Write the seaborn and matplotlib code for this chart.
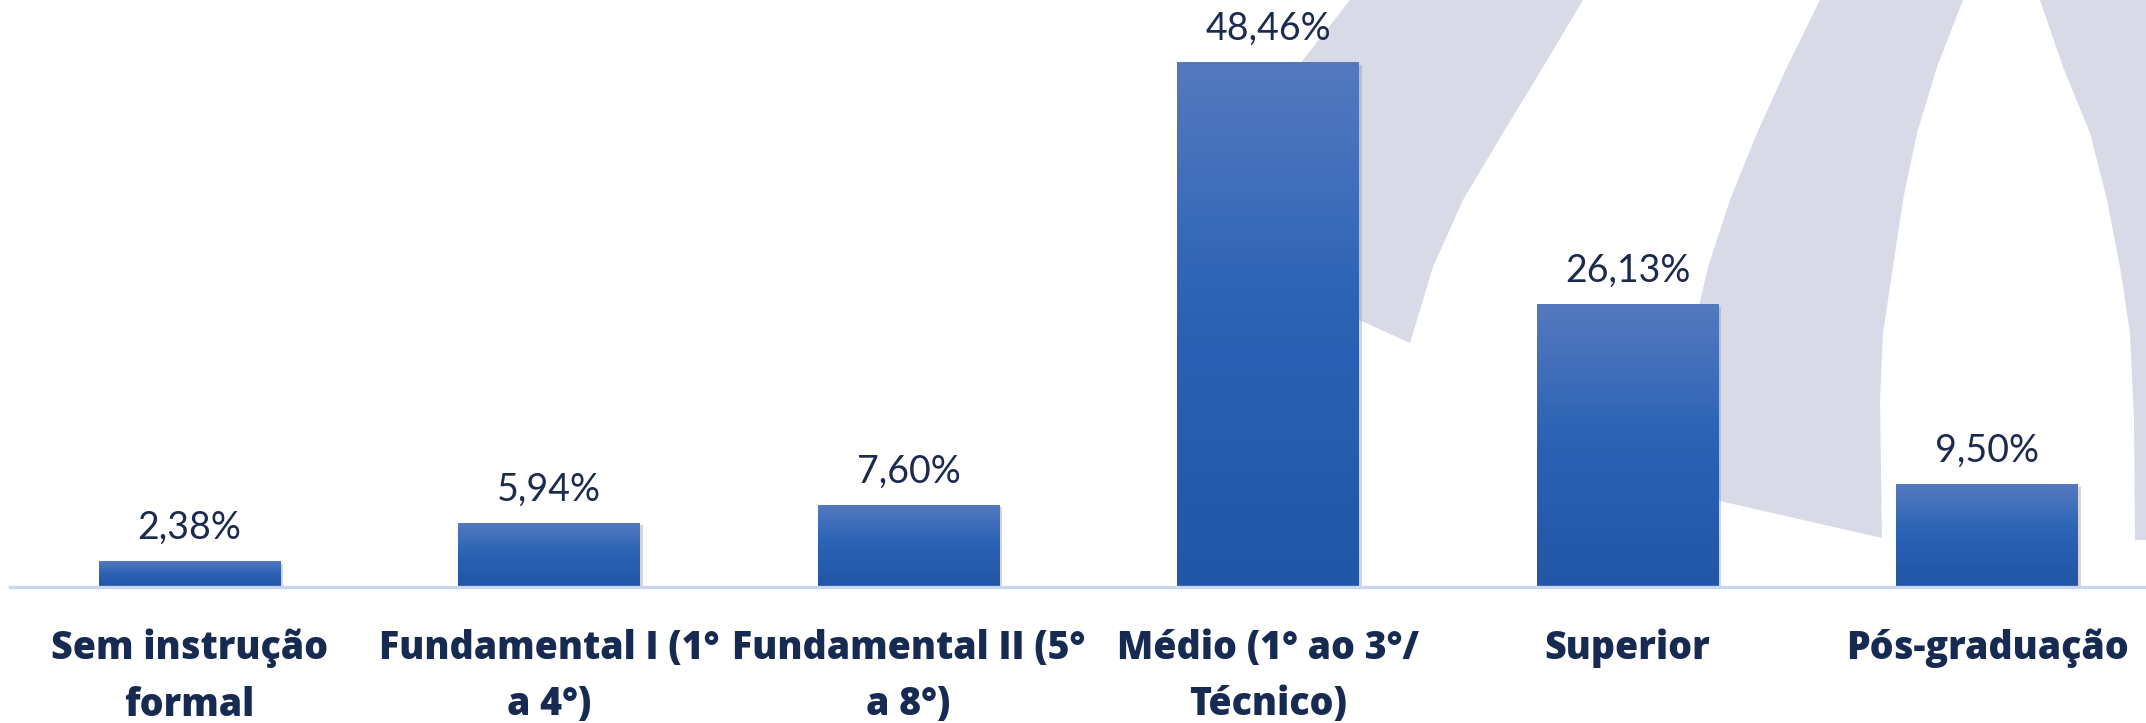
import numpy as np
import pandas as pd
import seaborn as sns
import matplotlib.pyplot as plt
from matplotlib.colors import LinearSegmentedColormap
from matplotlib.patches import Polygon
import matplotlib.patheffects as pe

# dados do gráfico (escolaridade)
categorias = ['Sem instrução\nformal', 'Fundamental I (1°\na 4°)', 'Fundamental II (5°\na 8°)',
              'Médio (1° ao 3°/\nTécnico)', 'Superior', 'Pós-graduação']
percentuais = [2.38, 5.94, 7.60, 48.46, 26.13, 9.50]
rotulos = ['2,38%', '5,94%', '7,60%', '48,46%', '26,13%', '9,50%']

df = pd.DataFrame({'Escolaridade': categorias, 'Percentual': percentuais})

W, H = 2146, 723
fig = plt.figure(figsize=(W / 100, H / 100), dpi=100)
fig.patch.set_facecolor('white')

# marca d'água ao fundo (px, y para baixo)
marca = [
    [(1350, 0), (1303, 60), (1268, 130), (1245, 200), (1232, 262), (1410, 343), (1423, 300),
     (1433, 267), (1463, 200), (1503, 133), (1543, 67), (1583, 0)],
    [(1820, 0), (1787, 67), (1757, 133), (1730, 200), (1708, 267), (1693, 333), (1682, 400),
     (1672, 490), (1882, 538), (1880, 400), (1883, 333), (1893, 267), (1903, 200), (1917, 133),
     (1937, 67), (1963, 0)],
    [(2040, 0), (2063, 67), (2090, 133), (2107, 200), (2120, 267), (2130, 333), (2134, 420),
     (2135, 540), (2146, 540), (2146, 0)],
]
for forma in marca:
    pts = [(x / W, 1 - y / H) for x, y in forma]
    fig.add_artist(Polygon(pts, closed=True, transform=fig.transFigure,
                           facecolor='#d8dae7', edgecolor='none', zorder=0))

ax = fig.add_axes([9.8 / W, (H - 587) / H, (W - 9.8) / W, 587 / H])
ax.patch.set_alpha(0)

sns.barplot(data=df, x='Escolaridade', y='Percentual', color='#2a5db0', width=0.506,
            saturation=1, ax=ax)

# gradiente em cada barra
cmap = LinearSegmentedColormap.from_list('barra', [(0, '#2256a6'), (0.45, '#2a60b3'),
                                                   (0.6, '#3066b6'), (0.8, '#4470bb'), (1, '#5479bf')])
grad = np.linspace(0, 1, 256).reshape(-1, 1)
for p in list(ax.patches):
    p.set_path_effects([pe.SimplePatchShadow(offset=(2, -2), shadow_rgbFace='#888888', alpha=0.35),
                        pe.Normal()])
    x0, w, h = p.get_x(), p.get_width(), p.get_height()
    im = ax.imshow(grad, extent=[x0, x0 + w, 0, h], origin='lower', cmap=cmap,
                   aspect='auto', zorder=p.get_zorder() + 0.1)
    im.set_clip_path(p)

for i, (v, txt) in enumerate(zip(percentuais, rotulos)):
    ax.annotate(txt, (i, v), xytext=(0, 24), textcoords='offset points', ha='center', va='center',
                fontsize=27, color='#1b2a4e', family='Lato')

ax.set_xlim(-0.5, 5.442)
ax.set_ylim(0, 54.2)
ax.set_xlabel('')
ax.set_ylabel('')
ax.set_yticks([])
for s in ['top', 'right', 'left']:
    ax.spines[s].set_visible(False)
ax.spines['bottom'].set_color('#c8d6ef')
ax.spines['bottom'].set_linewidth(2.4)
ax.tick_params(axis='x', length=0, pad=30)
for t in ax.get_xticklabels():
    t.set_fontfamily('Open Sans')
    t.set_fontweight(800)
    t.set_fontsize(27)
    t.set_color('#172a51')
    t.set_linespacing(1.58)

fig.savefig('out.png', dpi=100)
